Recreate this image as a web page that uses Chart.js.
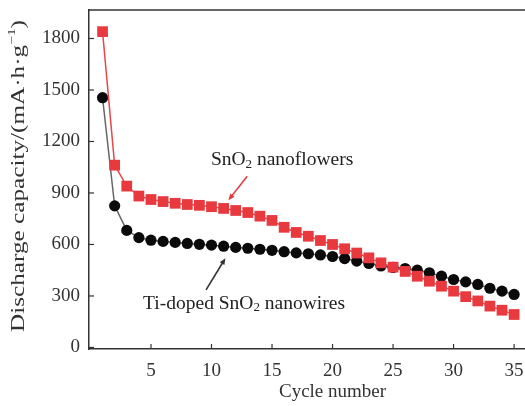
<!DOCTYPE html>
<html>
<head>
<meta charset="utf-8">
<script src="https://cdn.jsdelivr.net/npm/chart.js@4.4.1/dist/chart.umd.min.js"></script>
<style>
  html, body { margin: 0; padding: 0; background: #fff; }
  #wrap { width: 525px; height: 406px; position: relative; }
</style>
</head>
<body>
<div id="wrap"><canvas id="capChart"></canvas></div>
<script>
// cycle number (x)
const cycles = [1, 2, 3, 4, 5, 6, 7, 8, 9, 10, 11, 12, 13, 14, 15, 16, 17, 18,
    19, 20, 21, 22, 23, 24, 25, 26, 27, 28, 29, 30, 31, 32, 33, 34, 35];

// SnO2 nanoflowers (red squares)
const flowerCap = [1840, 1062, 940, 882, 862, 850, 840, 833, 828, 820, 810, 798,
    786, 765, 740, 700, 670, 648, 623, 600, 575, 550, 522, 493, 468, 443, 415,
    386, 357, 328, 296, 271, 241, 217, 192];

// Ti-doped SnO2 nanowires (black circles)
const wireCap = [1455, 825, 682, 640, 625, 618, 612, 606, 601, 596, 590, 583,
    578, 572, 566, 558, 551, 546, 539, 530, 518, 503, 489, 475, 466, 460, 450,
    435, 415, 396, 382, 367, 345, 328, 309];

const xTicks = [5, 10, 15, 20, 25, 30, 35];
const yTicks = [0, 300, 600, 900, 1200, 1500, 1800];

const FONT = "'Liberation Serif', 'Times New Roman', serif";
const AXIS = "#333";

function toPoints(ys) {
    return cycles.map((c, i) => ({ x: c, y: ys[i] }));
}

/* draw text with a lowered "2" (SnO2) or raised "-1" */
function drawParts(ctx, parts, x, y, size) {
    let cx = x;
    parts.forEach(p => {
        if (p.sub) {
            ctx.font = `${Math.round(size * 0.65)}px ${FONT}`;
            ctx.fillText(p.t, cx, y + size * 0.22);
        } else if (p.sup) {
            ctx.font = `${Math.round(size * 0.62)}px ${FONT}`;
            ctx.fillText(p.t, cx, y - size * 0.38);
        } else {
            ctx.font = `${size}px ${FONT}`;
            ctx.fillText(p.t, cx, y);
        }
        cx += ctx.measureText(p.t).width;
    });
    return cx - x;
}

function measureParts(ctx, parts, size) {
    let w = 0;
    parts.forEach(p => {
        const s = p.sub ? Math.round(size * 0.65) : p.sup ? Math.round(size * 0.62) : size;
        ctx.font = `${s}px ${FONT}`;
        w += ctx.measureText(p.t).width;
    });
    return w;
}

function drawArrow(ctx, x0, y0, x1, y1) {
    const ang = Math.atan2(y1 - y0, x1 - x0);
    const head = 7;
    ctx.beginPath();
    ctx.moveTo(x0, y0);
    ctx.lineTo(x1 - Math.cos(ang) * head * 0.6, y1 - Math.sin(ang) * head * 0.6);
    ctx.stroke();
    ctx.beginPath();
    ctx.moveTo(x1, y1);
    ctx.lineTo(x1 - head * Math.cos(ang - 0.4), y1 - head * Math.sin(ang - 0.4));
    ctx.lineTo(x1 - head * Math.cos(ang + 0.4), y1 - head * Math.sin(ang + 0.4));
    ctx.closePath();
    ctx.fillStyle = ctx.strokeStyle;
    ctx.fill();
}

const decorPlugin = {
    id: "decor",
    afterDraw(chart) {
        const ctx = chart.ctx;
        const xs = chart.scales.x;
        const ys = chart.scales.y;
        const area = chart.chartArea;

        ctx.save();
        ctx.strokeStyle = AXIS;
        ctx.lineWidth = 1.5;

        // top frame line
        ctx.beginPath();
        ctx.moveTo(area.left, area.top);
        ctx.lineTo(chart.width, area.top);
        ctx.stroke();

        // inward tick marks
        ctx.lineWidth = 1.2;
        xs.ticks.forEach(t => {
            const px = xs.getPixelForValue(t.value);
            ctx.beginPath();
            ctx.moveTo(px, area.bottom);
            ctx.lineTo(px, area.bottom - 5);
            ctx.stroke();
        });
        ys.ticks.forEach(t => {
            const py = ys.getPixelForValue(t.value);
            ctx.beginPath();
            ctx.moveTo(area.left, py);
            ctx.lineTo(area.left + 5, py);
            ctx.stroke();
        });

        ctx.fillStyle = "#222";
        ctx.textBaseline = "middle";
        ctx.textAlign = "left";

        // annotation: SnO2 nanoflowers
        const f1 = [{ t: "SnO" }, { t: "2", sub: true }, { t: " nanoflowers" }];
        drawParts(ctx, f1, xs.getPixelForValue(9.95), ys.getPixelForValue(1090), 19.5);

        ctx.strokeStyle = "#e03a40";
        ctx.lineWidth = 1.6;
        drawArrow(ctx, xs.getPixelForValue(12.95), ys.getPixelForValue(998),
            xs.getPixelForValue(11.4), ys.getPixelForValue(858));

        // annotation: Ti-doped SnO2 nanowires
        const f2 = [{ t: "Ti-doped SnO" }, { t: "2", sub: true }, { t: " nanowires" }];
        ctx.fillStyle = "#222";
        drawParts(ctx, f2, xs.getPixelForValue(4.35), ys.getPixelForValue(255), 19.5);

        ctx.strokeStyle = "#333";
        drawArrow(ctx, xs.getPixelForValue(9.55), ys.getPixelForValue(335),
            xs.getPixelForValue(11.15), ys.getPixelForValue(520));

        // x axis title, centred under tick 20
        ctx.fillStyle = "#333";
        ctx.textAlign = "center";
        ctx.font = `19px ${FONT}`;
        ctx.fillText("Cycle number", xs.getPixelForValue(20), 392);

        // y axis title (rotated, stretched to its length in the figure)
        ctx.textAlign = "left";
        const yt = [{ t: "Discharge capacity/(mA·h·g" }, { t: "−1", sup: true }, { t: ")" }];
        const w = measureParts(ctx, yt, 18);
        const target = 312;
        ctx.translate(19, 176);
        ctx.rotate(-Math.PI / 2);
        ctx.scale(target / w, 1);
        drawParts(ctx, yt, -w / 2, 0, 18);
        ctx.restore();
    }
};

const chart = new Chart(document.getElementById("capChart").getContext("2d"), {
    type: "line",
    data: {
        datasets: [
            {
                label: "SnO2 nanoflowers",
                data: toPoints(flowerCap),
                borderColor: "#e8474c",
                borderWidth: 1.5,
                backgroundColor: "#e8393f",
                pointStyle: "rect",
                pointRadius: 7.6,
                pointBorderWidth: 0,
                tension: 0,
                clip: 12
            },
            {
                label: "Ti-doped SnO2 nanowires",
                data: toPoints(wireCap),
                borderColor: "#666",
                borderWidth: 1.5,
                backgroundColor: "#0a0a0a",
                pointStyle: "circle",
                pointRadius: 5.6,
                pointBorderWidth: 0,
                tension: 0,
                clip: 12
            }
        ]
    },
    options: {
        responsive: true,
        maintainAspectRatio: false,
        animation: false,
        layout: { autoPadding: false, padding: { top: 10, right: 0, left: 0, bottom: 0 } },
        plugins: {
            legend: { display: false },
            tooltip: { enabled: false }
        },
        scales: {
            x: {
                type: "linear",
                min: -0.12,
                max: 35.9,
                afterBuildTicks: axis => { axis.ticks = xTicks.map(v => ({ value: v })); },
                afterFit: axis => {
                    axis.height = 57;
                    axis.paddingLeft = 0;
                    axis.paddingRight = 0;
                },
                grid: { drawOnChartArea: false, drawTicks: false },
                border: { display: true, color: AXIS, width: 1.5 },
                ticks: {
                    padding: 11,
                    color: "#333",
                    font: { family: FONT, size: 19 },
                    maxRotation: 0,
                    callback: v => String(v)
                }
            },
            y: {
                min: -9,
                max: 1966,
                afterBuildTicks: axis => { axis.ticks = yTicks.map(v => ({ value: v })); },
                afterFit: axis => {
                    axis.width = 89;
                    axis.paddingTop = 0;
                    axis.paddingBottom = 0;
                },
                grid: { drawOnChartArea: false, drawTicks: false },
                border: { display: true, color: AXIS, width: 1.5 },
                ticks: {
                    padding: 9,
                    color: "#333",
                    font: { family: FONT, size: 19 },
                    callback: v => String(v)
                }
            }
        }
    },
    plugins: [decorPlugin]
});
</script>
</body>
</html>
